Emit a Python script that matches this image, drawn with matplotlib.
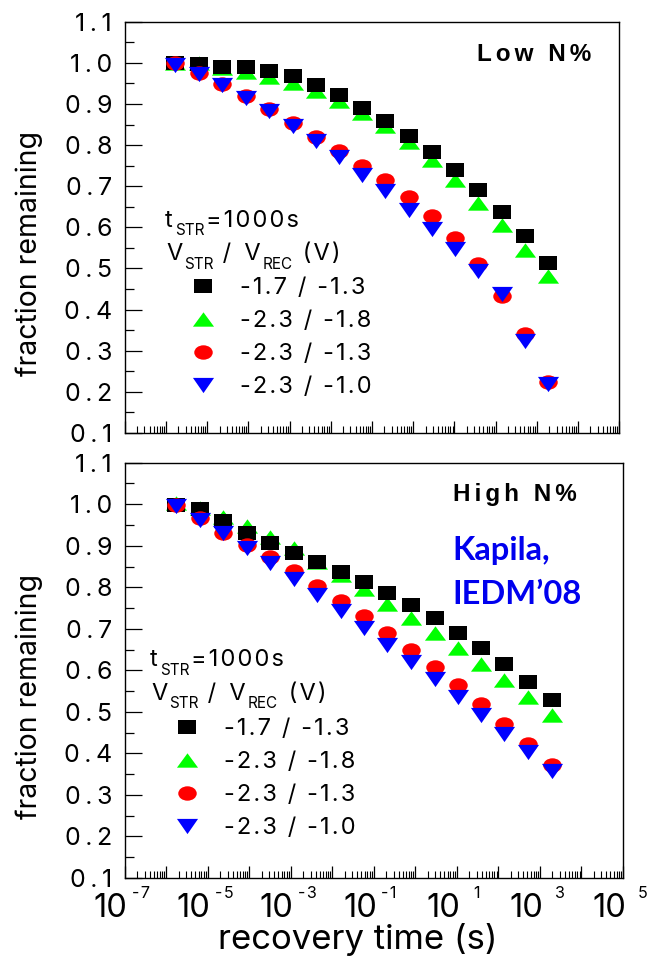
import numpy as np
import matplotlib
matplotlib.use("Agg")
import matplotlib.pyplot as plt
from matplotlib.path import Path
from matplotlib.transforms import Affine2D, offset_copy
from matplotlib.ticker import MultipleLocator, LogLocator, FuncFormatter, NullFormatter

W, H, DPI = 648, 957, 100
plt.rcParams['font.family'] = ['Inter', 'DejaVu Sans']

# recovery times (s)
t_rec = [1.7e-6, 6.4e-6, 2.3e-5, 8.6e-5, 3.2e-4, 1.2e-3, 4.3e-3, 1.6e-2, 5.8e-2,
         0.21, 0.78, 2.9, 10.5, 38, 140, 520, 1900]

# stress / recovery bias conditions (V)
conditions = ['-1.7 / -1.3', '-2.3 / -1.8', '-2.3 / -1.3', '-2.3 / -1.0']

# fraction remaining, low N%
low_a = [1.000, 0.998, 0.991, 0.989, 0.981, 0.967, 0.947, 0.921, 0.891, 0.858, 0.821, 0.782, 0.739, 0.692, 0.638, 0.580, 0.514]
low_b = [1.000, 0.999, 0.988, 0.978, 0.965, 0.950, 0.931, 0.908, 0.879, 0.847, 0.808, 0.764, 0.714, 0.660, 0.605, 0.545, 0.481]
low_c = [1.000, 0.976, 0.949, 0.919, 0.888, 0.853, 0.820, 0.785, 0.749, 0.714, 0.673, 0.627, 0.574, 0.511, 0.433, 0.341, 0.223]
low_d = [0.995, 0.972, 0.946, 0.915, 0.883, 0.847, 0.809, 0.771, 0.728, 0.688, 0.643, 0.596, 0.547, 0.494, 0.438, 0.324, 0.220]

# fraction remaining, high N%
high_a = [0.998, 0.989, 0.960, 0.931, 0.906, 0.883, 0.861, 0.837, 0.813, 0.786, 0.758, 0.727, 0.691, 0.655, 0.616, 0.572, 0.528]
high_b = [1.003, 0.990, 0.970, 0.947, 0.922, 0.894, 0.860, 0.829, 0.795, 0.759, 0.725, 0.691, 0.655, 0.615, 0.576, 0.536, 0.492]
high_c = [0.998, 0.968, 0.930, 0.902, 0.874, 0.839, 0.803, 0.767, 0.730, 0.691, 0.650, 0.609, 0.564, 0.518, 0.471, 0.422, 0.372]
high_d = [0.995, 0.962, 0.930, 0.894, 0.858, 0.820, 0.782, 0.742, 0.703, 0.662, 0.620, 0.579, 0.536, 0.492, 0.447, 0.404, 0.357]

colors = ['#000000', '#00ff00', '#ff0000', '#0000ff']

HAIR = '\u200a'
THIN = '\u2009'


def track(s, sep=HAIR):
    return sep.join(s)


# wide marker shapes
m_square = Path([(-1, -0.75), (1, -0.75), (1, 0.75), (-1, 0.75), (-1, -0.75)], closed=True)
m_up = Path([(0, 0.68), (-1, -0.68), (1, -0.68), (0, 0.68)], closed=True)
m_ellipse = Affine2D().scale(1.0, 0.78).transform_path(Path.unit_circle())
m_down = Path([(0, -0.72), (-1, 0.72), (1, 0.72), (0, -0.72)], closed=True)
markers = [m_square, m_up, m_ellipse, m_down]
msizes = [12.8, 15.2, 13.3, 15.2]

fig = plt.figure(figsize=(W / DPI, H / DPI), dpi=DPI)


def fx(px):
    return px / W


def fy(py):
    return 1 - py / H


ax1 = fig.add_axes([fx(124.7), fy(433.0), fx(619.3) - fx(124.7), fy(21.7) - fy(433.0)])
ax2 = fig.add_axes([fx(124.7), fy(878.0), fx(623.0) - fx(124.7), fy(462.7) - fy(878.0)])


def style_axes(ax, bottom_labels):
    ax.set_xscale('log')
    ax.set_xlim(1e-7, 1e5)
    ax.set_ylim(0.1, 1.1)
    ax.xaxis.set_major_locator(LogLocator(base=10, numticks=30))
    ax.xaxis.set_minor_locator(LogLocator(base=10, subs=np.arange(2, 10), numticks=200))
    ax.xaxis.set_major_formatter(NullFormatter())
    ax.xaxis.set_minor_formatter(NullFormatter())
    ax.yaxis.set_major_locator(MultipleLocator(0.1))
    ax.yaxis.set_minor_locator(MultipleLocator(0.05))
    ax.yaxis.set_major_formatter(FuncFormatter(lambda v, p: track('%.1f' % v, THIN)))
    ax.tick_params(axis='both', which='both', direction='in', top=False, right=False)
    ax.tick_params(axis='y', which='major', length=12.5, width=0.9, pad=9.0, labelsize=18)
    ax.tick_params(axis='y', which='minor', length=6.5, width=0.9)
    ax.tick_params(axis='x', which='major', length=9.0, width=0.9)
    ax.tick_params(axis='x', which='minor', length=5.0, width=0.8)
    for sp in ax.spines.values():
        sp.set_linewidth(1.0)
    if bottom_labels:
        for e in range(-7, 6, 2):
            tr_base = offset_copy(ax.get_xaxis_transform(), fig=fig, x=3, y=-39, units='dots')
            ax.text(10.0 ** e, 0, '10', transform=tr_base, ha='right', va='baseline', fontsize=23.5)
            if e < 0:
                tr_exp = offset_copy(ax.get_xaxis_transform(), fig=fig, x=7.0, y=-19.5, units='dots')
                ax.text(10.0 ** e, 0, '-' + HAIR + str(-e), transform=tr_exp, ha='left',
                        va='baseline', fontsize=11.6)
            else:
                tr_exp = offset_copy(ax.get_xaxis_transform(), fig=fig, x=20.0, y=-19.5, units='dots')
                ax.text(10.0 ** e, 0, str(e), transform=tr_exp, ha='center',
                        va='baseline', fontsize=11.6)


def draw_series(ax, series):
    handles = [None] * 4
    for i in [1, 0, 2, 3]:
        h, = ax.plot(t_rec, series[i], linestyle='none', marker=markers[i], markersize=msizes[i],
                     markerfacecolor=colors[i], markeredgewidth=0, label=track(conditions[i]))
        handles[i] = h
    return handles


def sub_line(ax, x, y, parts, size=17.0, sub_size=11.0, sub_dy=-6.4, gap=2):
    first = ax.annotate(parts[0][0], xy=(fx(x), fy(y)), xycoords='figure fraction',
                        ha='left', va='baseline', fontsize=size)
    prev = first
    for s, is_sub in parts[1:]:
        prev = ax.annotate(s, xy=(1, 0), xycoords=(prev, first),
                           xytext=(gap, sub_dy if is_sub else 0), textcoords='offset pixels',
                           ha='left', va='bottom', fontsize=sub_size if is_sub else size)


def panel(ax, series, hx, hy, lx, ly, bottom_labels):
    style_axes(ax, bottom_labels)
    handles = draw_series(ax, series)
    sub_line(ax, hx, hy, [('t', False), ('STR', True), (track('=1000s'), False)])
    sub_line(ax, hx + 1, hy + 33.5, [('V', False), ('STR', True), (' /  V', False),
                                     ('REC', True), (track(' (V)'), False)])
    ax.legend(handles=handles, loc='upper left', bbox_to_anchor=(fx(lx), fy(ly)),
              bbox_transform=fig.transFigure, frameon=False, borderpad=0, borderaxespad=0,
              handlelength=1.0, handletextpad=1.1, labelspacing=0.47, numpoints=1,
              fontsize=17)


panel(ax1, [low_a, low_b, low_c, low_d], 165, 226.7, 190.9, 277.0, False)
panel(ax2, [high_a, high_b, high_c, high_d], 150, 666.5, 174.9, 718.0, True)

bold_font = ['Liberation Sans', 'DejaVu Sans']
fig.text(fx(591.5), fy(60.7), track('Low N%', HAIR * 2), family=bold_font, fontweight='bold',
         fontsize=17.5, ha='right', va='baseline')
fig.text(fx(576.5), fy(500.7), track('High N%', HAIR * 2), family=bold_font, fontweight='bold',
         fontsize=17.5, ha='right', va='baseline')
fig.text(fx(452.0), fy(560.0), 'Kapila,', family=['Lato', 'DejaVu Sans'], fontweight='bold',
         fontsize=23.5, color='#0000ee', ha='left', va='baseline')
fig.text(fx(452.0), fy(604.0), 'IEDM\u201908', family=['Lato', 'DejaVu Sans'], fontweight='bold',
         fontsize=23.5, color='#0000ee', ha='left', va='baseline')

fig.text(fx(29.5), fy(253), 'fraction remaining', rotation=90, ha='center', va='center',
         fontsize=20.5)
fig.text(fx(29.5), fy(696), 'fraction remaining', rotation=90, ha='center', va='center',
         fontsize=20.5)
fig.text(fx(358), fy(949), 'recovery time (s)', ha='center', va='baseline', fontsize=25)

fig.savefig('out.png', dpi=DPI)
